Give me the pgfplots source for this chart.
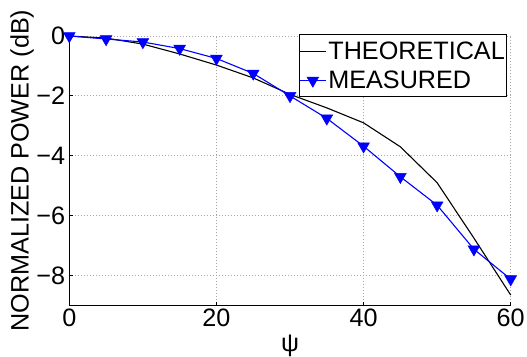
\documentclass[border=0pt]{standalone}
\usepackage{fontspec}
\setmainfont{Liberation Sans}
\usepackage{pgfplots}
\pgfplotsset{compat=1.18}
\newcommand{\bigf}{\fontsize{25.2}{30}\selectfont}
\begin{document}
\begin{tikzpicture}
\begin{axis}[
  at={(69.3pt,50.5pt)}, anchor=south west,
  scale only axis, width=441.4pt, height=269.5pt,
  xmin=0, xmax=60, ymin=-9, ymax=0,
  axis lines=left, axis line style={-, line width=1pt},
  xtick={0,20,40,60}, xticklabels={0,20,40,60},
  ytick={-8,-6,-4,-2,0}, yticklabels={−8,−6,−4,−2,0},
  tick align=inside, major tick length=4pt,
  tick style={black, line width=0.8pt},
  grid=major,
  major grid style={gray!70, line width=0.8pt, dash pattern=on 1pt off 2pt},
  tick label style={font=\bigf},
  yticklabel style={inner sep=0pt, xshift=-4pt},
  label style={font=\bigf},
  xlabel={ψ},
  xlabel style={at={(axis description cs:0.5,-0.150)}, anchor=center},
  ylabel={NORMALIZED POWER (dB)},
  ylabel style={at={(axis description cs:-0.107,0.5)}, anchor=center},
  clip=false,
  legend style={font=\bigf, at={(rel axis cs:0.9923,1.0063)}, anchor=north east,
    draw=black, line width=1pt, inner xsep=0pt, inner ysep=5pt,
    row sep=6pt, fill=white},
  legend cell align=left,
  legend image code/.code={%
    \draw[mark repeat=2,mark phase=2,#1] plot coordinates {(0pt,0pt) (13pt,0pt) (26pt,0pt)};},
]
\addplot[black, line width=1.1pt] coordinates {
(0,0) (5,-0.07) (10,-0.27) (15,-0.6) (20,-0.97) (25,-1.4) (30,-1.95)
(35,-2.4) (40,-2.9) (45,-3.7) (50,-4.9) (55,-6.75) (60,-8.65)};
\addlegendentry{THEORETICAL}
\addplot[blue, line width=1.1pt, mark=triangle*, mark size=6.8pt,
  mark options={rotate=180, fill=blue, line width=0.5pt}] coordinates {
(0,0) (5,-0.1) (10,-0.2) (15,-0.42) (20,-0.75) (25,-1.25) (30,-2.0)
(35,-2.75) (40,-3.68) (45,-4.7) (50,-5.65) (55,-7.12) (60,-8.12)};
\addlegendentry{MEASURED}
\end{axis}
\pgfresetboundingbox
\useasboundingbox (0,0) rectangle (527pt,356pt);
\end{tikzpicture}
\end{document}
